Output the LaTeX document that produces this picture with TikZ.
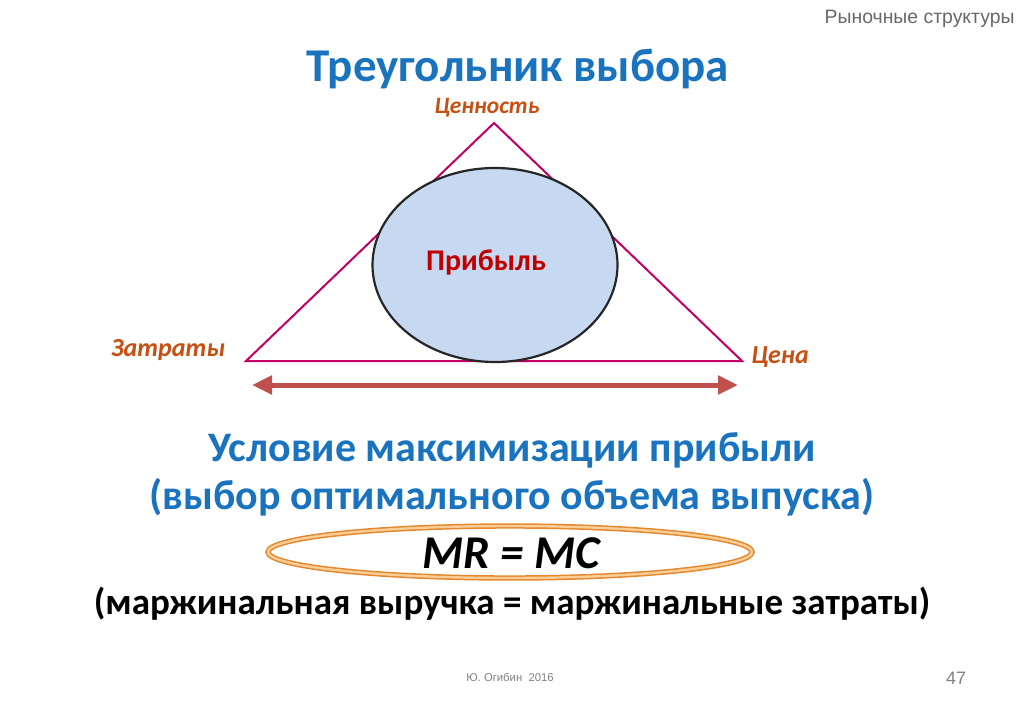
\documentclass[tikz,border=0pt]{standalone}
\usepackage{fontspec}
\setmainfont{Carlito}
\newfontfamily\arialf{Liberation Sans}
\usetikzlibrary{arrows.meta,shapes.geometric}
\definecolor{titleblue}{RGB}{25,115,190}
\definecolor{labelbrown}{RGB}{197,80,17}
\definecolor{tri}{RGB}{192,0,100}
\definecolor{ellfill}{RGB}{198,217,240}
\definecolor{profred}{RGB}{192,0,0}
\definecolor{arrowred}{RGB}{192,80,77}
\definecolor{ringdark}{RGB}{228,135,45}
\definecolor{ringlight}{RGB}{250,205,150}
\definecolor{footgray}{RGB}{130,130,130}
\tikzset{
  titletext/.style={text=titleblue, font=\bfseries\fontsize{47}{52}\selectfont},
  bluetext/.style={text=titleblue, font=\bfseries\fontsize{42}{46}\selectfont},
  vlabel/.style={text=labelbrown, font=\bfseries\itshape\fontsize{26}{30}\selectfont},
}
\begin{document}
\begin{tikzpicture}[x=1pt,y=-1pt]
\useasboundingbox[fill=white] (0,0) rectangle (1024,708);
% header
\node[anchor=east, text=footgray!80!black, font=\arialf\fontsize{19.4}{22}\selectfont] (hdr) at (1018,19) {Рыночные структуры};
\node[titletext] (title) at (518,69) {Треугольник выбора};
% triangle
\coordinate (A) at (494,123);
\coordinate (B) at (246,361);
\coordinate (C) at (742,361);
\draw[tri, line width=2pt, line join=miter] (A) -- (B) -- (C) -- cycle;
% ellipse
\node[draw=black!85, line width=2.2pt, fill=ellfill, ellipse, minimum width=245, minimum height=194, inner sep=0pt] (prof) at (495,265) {};
\node[text=profred, font=\bfseries\fontsize{30}{34}\selectfont] (proft) at (486,263) {Прибыль};
% labels
\node[vlabel, font=\bfseries\itshape\fontsize{23.5}{27}\selectfont] (val) at (487,108) {Ценность};
\node[vlabel] (cost) at (168,350) {Затраты};
\node[vlabel] (price) at (780,357) {Цена};
% arrow
\coordinate (al) at (252,385);
\coordinate (ar) at (738,385);
\draw[arrowred, line width=5pt, {Triangle[length=20pt,width=18pt]}-{Triangle[length=20pt,width=18pt]}] (al) -- (ar);
% lower text
\node[bluetext] (cond1) at (512,450) {Условие максимизации прибыли};
\node[bluetext] (cond2) at (512,497) {(выбор оптимального объема выпуска)};
\node[draw=ringdark, double=ringlight, double distance=2.4pt, line width=1.5pt, ellipse, minimum width=484, minimum height=52, inner sep=0pt] (ring) at (510,552) {};
\node[font=\bfseries\itshape\fontsize{47}{52}\selectfont] (eq) at (511,553) {MR = MC};
\node[font=\bfseries\fontsize{37}{42}\selectfont] (expl) at (512,604) {(маржинальная выручка = маржинальные затраты)};
% footer
\node[text=footgray, font=\arialf\fontsize{11.3}{13}\selectfont] (auth) at (510,677) {Ю. Огибин\ \ 2016};
\node[text=footgray, font=\arialf\fontsize{18}{20}\selectfont] (page) at (956,678) {47};
\end{tikzpicture}
\end{document}
